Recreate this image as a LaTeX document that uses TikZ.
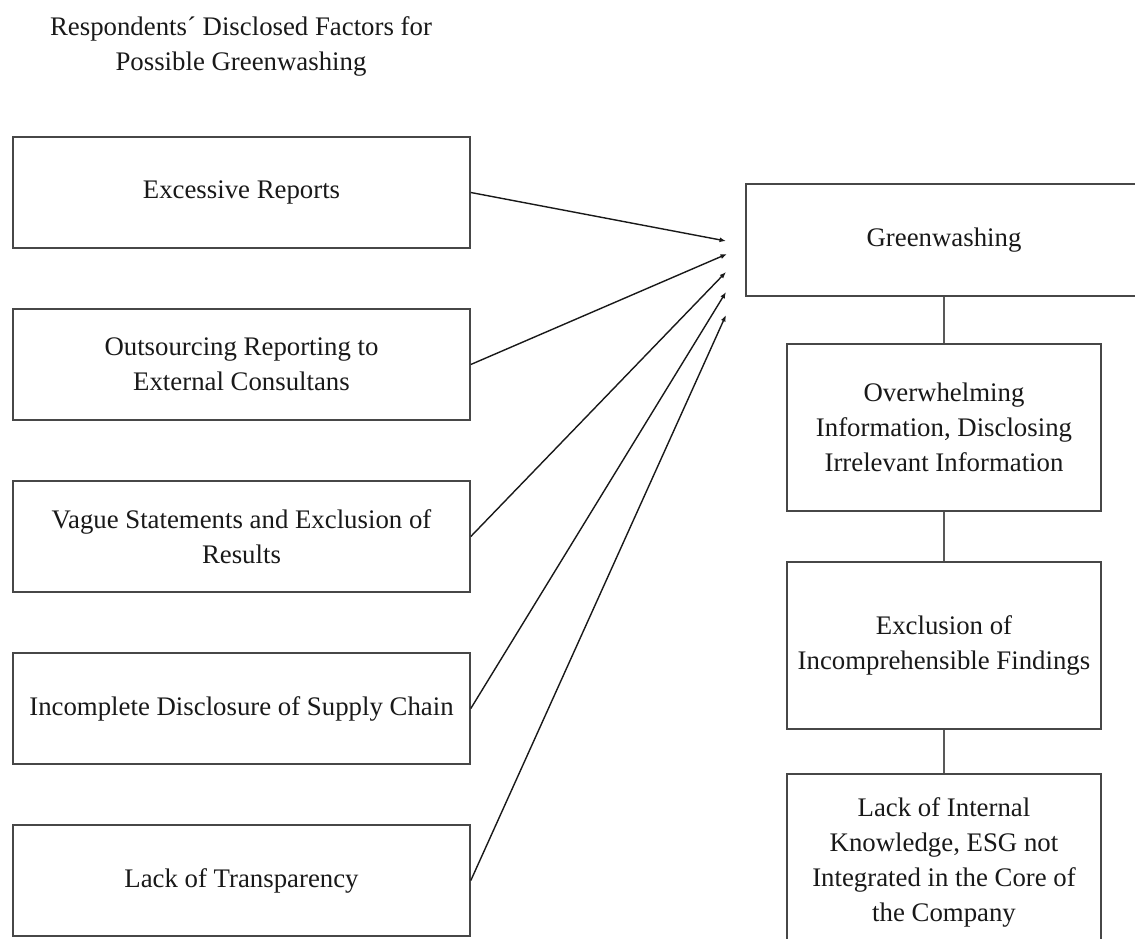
\documentclass[tikz,border=0pt]{standalone}
\usepackage{fontspec}
\setmainfont{Liberation Serif}
\usetikzlibrary{arrows.meta}
\tikzset{
  box/.style={draw=black!72, line width=1.6pt, rectangle, align=center, inner sep=0pt,
    font=\fontsize{26.8}{35}\selectfont, text=black!90},
  leftbox/.style={box, minimum width=457pt, minimum height=111pt},
  rightbox/.style={box, minimum width=314pt, minimum height=167pt},
  arr/.style={line width=1.4pt, black!90, -{Latex[length=6.5pt,width=5pt]}},
  link/.style={line width=1.6pt, black!65},
  titlefont/.style={font=\fontsize{26.8}{35}\selectfont, text=black!90, align=center}
}
\begin{document}
\begin{tikzpicture}[x=1pt,y=-1pt]
\useasboundingbox (0,0) rectangle (1135,939);
\clip (0,0) rectangle (1135,939);
\fill[white] (0,0) rectangle (1135,939);

\node[titlefont] (title) at (241,46) {Respondents´ Disclosed Factors for\\Possible Greenwashing};

\node[leftbox] (b1) at (241.5,192.5) {Excessive Reports};
\node[leftbox] (b2) at (241.5,364.5) {Outsourcing Reporting to\\External Consultans};
\node[leftbox] (b3) at (241.5,536.5) {Vague Statements and Exclusion of\\Results};
\node[leftbox] (b4) at (241.5,708.5) {Incomplete Disclosure of Supply Chain};
\node[leftbox] (b5) at (241.5,880.5) {Lack of Transparency};

\node[box, minimum width=396pt, minimum height=112pt] (g) at (944,240) {Greenwashing};
\node[rightbox] (r1) at (944,427.5) {Overwhelming\\Information, Disclosing\\Irrelevant Information};
\node[rightbox] (r2) at (944,645.5) {Exclusion of\\Incomprehensible Findings};
\node[box, minimum width=314pt, minimum height=176pt] (r3) at (944,862) {Lack of Internal\\Knowledge, ESG not\\Integrated in the Core of\\the Company};

\coordinate (t1) at (726,241);
\coordinate (t2) at (727,254);
\coordinate (t3) at (726,272);
\coordinate (t4) at (726,292);
\coordinate (t5) at (726,315);

\draw[arr] (b1.east) -- (t1);
\draw[arr] (b2.east) -- (t2);
\draw[arr] (b3.east) -- (t3);
\draw[arr] (b4.east) -- (t4);
\draw[arr] (b5.east) -- (t5);

\draw[link] (g.south) -- (r1.north);
\draw[link] (r1.south) -- (r2.north);
\draw[link] (r2.south) -- (r3.north);
\end{tikzpicture}
\end{document}
